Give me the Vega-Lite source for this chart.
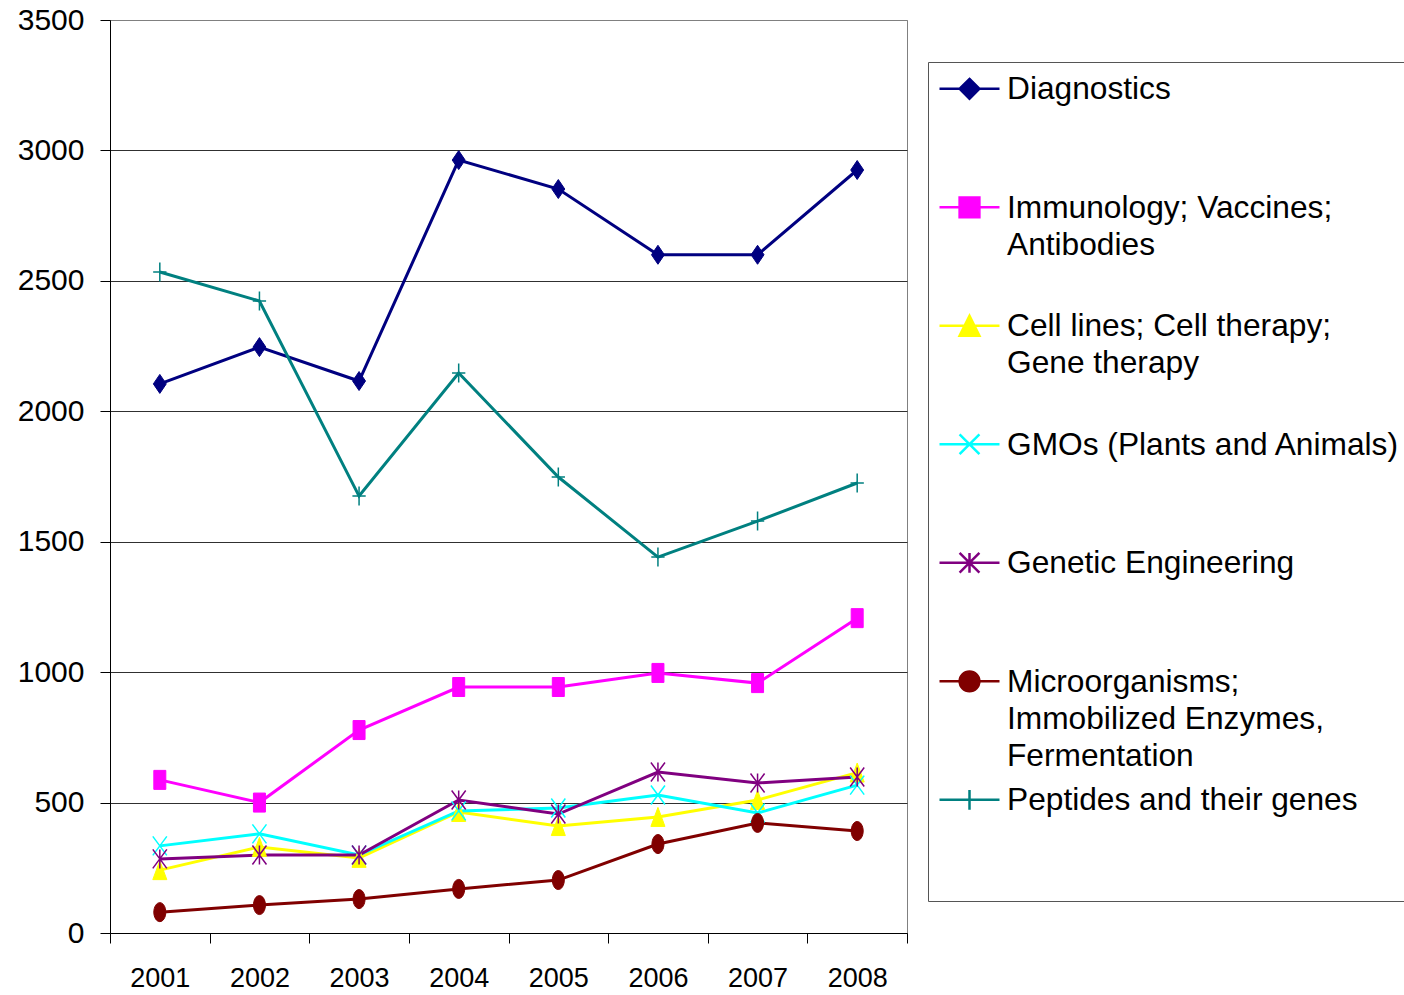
{
  "$schema": "https://vega.github.io/schema/vega-lite/v6.json",
  "width": 797,
  "height": 913,
  "autosize": {"type": "none"},
  "padding": {"left": 110, "top": 20, "right": 497, "bottom": 62},
  "background": "white",
  "config": {"view": {"stroke": "#808080", "strokeWidth": 1}, "font": "Liberation Sans"},
  "data": {"values": [
    {"year": "2001", "series": "Diagnostics", "value": 2105},
    {"year": "2002", "series": "Diagnostics", "value": 2246},
    {"year": "2003", "series": "Diagnostics", "value": 2116},
    {"year": "2004", "series": "Diagnostics", "value": 2963},
    {"year": "2005", "series": "Diagnostics", "value": 2852},
    {"year": "2006", "series": "Diagnostics", "value": 2600},
    {"year": "2007", "series": "Diagnostics", "value": 2600},
    {"year": "2008", "series": "Diagnostics", "value": 2925},
    {"year": "2001", "series": "Immunology; Vaccines; Antibodies", "value": 587},
    {"year": "2002", "series": "Immunology; Vaccines; Antibodies", "value": 500},
    {"year": "2003", "series": "Immunology; Vaccines; Antibodies", "value": 778},
    {"year": "2004", "series": "Immunology; Vaccines; Antibodies", "value": 943},
    {"year": "2005", "series": "Immunology; Vaccines; Antibodies", "value": 943},
    {"year": "2006", "series": "Immunology; Vaccines; Antibodies", "value": 997},
    {"year": "2007", "series": "Immunology; Vaccines; Antibodies", "value": 958},
    {"year": "2008", "series": "Immunology; Vaccines; Antibodies", "value": 1207},
    {"year": "2001", "series": "Cell lines; Cell therapy; Gene therapy", "value": 241},
    {"year": "2002", "series": "Cell lines; Cell therapy; Gene therapy", "value": 330},
    {"year": "2003", "series": "Cell lines; Cell therapy; Gene therapy", "value": 288},
    {"year": "2004", "series": "Cell lines; Cell therapy; Gene therapy", "value": 464},
    {"year": "2005", "series": "Cell lines; Cell therapy; Gene therapy", "value": 410},
    {"year": "2006", "series": "Cell lines; Cell therapy; Gene therapy", "value": 445},
    {"year": "2007", "series": "Cell lines; Cell therapy; Gene therapy", "value": 510},
    {"year": "2008", "series": "Cell lines; Cell therapy; Gene therapy", "value": 615},
    {"year": "2001", "series": "GMOs (Plants and Animals)", "value": 334},
    {"year": "2002", "series": "GMOs (Plants and Animals)", "value": 380},
    {"year": "2003", "series": "GMOs (Plants and Animals)", "value": 299},
    {"year": "2004", "series": "GMOs (Plants and Animals)", "value": 468},
    {"year": "2005", "series": "GMOs (Plants and Animals)", "value": 479},
    {"year": "2006", "series": "GMOs (Plants and Animals)", "value": 529},
    {"year": "2007", "series": "GMOs (Plants and Animals)", "value": 460},
    {"year": "2008", "series": "GMOs (Plants and Animals)", "value": 567},
    {"year": "2001", "series": "Genetic Engineering", "value": 284},
    {"year": "2002", "series": "Genetic Engineering", "value": 299},
    {"year": "2003", "series": "Genetic Engineering", "value": 299},
    {"year": "2004", "series": "Genetic Engineering", "value": 510},
    {"year": "2005", "series": "Genetic Engineering", "value": 456},
    {"year": "2006", "series": "Genetic Engineering", "value": 617},
    {"year": "2007", "series": "Genetic Engineering", "value": 575},
    {"year": "2008", "series": "Genetic Engineering", "value": 598},
    {"year": "2001", "series": "Microorganisms; Immobilized Enzymes, Fermentation", "value": 80},
    {"year": "2002", "series": "Microorganisms; Immobilized Enzymes, Fermentation", "value": 107},
    {"year": "2003", "series": "Microorganisms; Immobilized Enzymes, Fermentation", "value": 130},
    {"year": "2004", "series": "Microorganisms; Immobilized Enzymes, Fermentation", "value": 169},
    {"year": "2005", "series": "Microorganisms; Immobilized Enzymes, Fermentation", "value": 203},
    {"year": "2006", "series": "Microorganisms; Immobilized Enzymes, Fermentation", "value": 341},
    {"year": "2007", "series": "Microorganisms; Immobilized Enzymes, Fermentation", "value": 422},
    {"year": "2008", "series": "Microorganisms; Immobilized Enzymes, Fermentation", "value": 391},
    {"year": "2001", "series": "Peptides and their genes", "value": 2534},
    {"year": "2002", "series": "Peptides and their genes", "value": 2423},
    {"year": "2003", "series": "Peptides and their genes", "value": 1675},
    {"year": "2004", "series": "Peptides and their genes", "value": 2147},
    {"year": "2005", "series": "Peptides and their genes", "value": 1748},
    {"year": "2006", "series": "Peptides and their genes", "value": 1441},
    {"year": "2007", "series": "Peptides and their genes", "value": 1579},
    {"year": "2008", "series": "Peptides and their genes", "value": 1725}
  ]},
  "encoding": {
    "x": {
      "field": "year", "type": "ordinal", "bandPosition": 0.5,
      "scale": {"type": "band", "paddingInner": 0, "paddingOuter": 0},
      "axis": {"title": null, "grid": false, "domainColor": "black", "tickColor": "black", "tickSize": 10, "tickBand": "extent", "labelFont": "Liberation Sans", "labelFontSize": 27, "labelColor": "black", "labelPadding": 22, "labelAngle": 0}
    },
    "y": {
      "field": "value", "type": "quantitative",
      "scale": {"domain": [0, 3500], "nice": false},
      "axis": {"title": null, "format": "d", "values": [0, 500, 1000, 1500, 2000, 2500, 3000, 3500], "grid": true, "gridColor": {"condition": {"test": "datum.value == 3500", "value": "#808080"}, "value": "#303030"}, "domainColor": "black", "tickColor": "black", "tickSize": 10, "labelFont": "Liberation Sans", "labelFontSize": 30, "labelColor": "black", "labelPadding": 16}
    },
    "color": {
      "field": "series", "type": "nominal",
      "scale": {
        "domain": ["Diagnostics", "Immunology; Vaccines; Antibodies", "Cell lines; Cell therapy; Gene therapy", "GMOs (Plants and Animals)", "Genetic Engineering", "Microorganisms; Immobilized Enzymes, Fermentation", "Peptides and their genes"],
        "range": ["#000080", "#FF00FF", "#FFFF00", "#00FFFF", "#800080", "#800000", "#008080"]
      },
      "legend": {
        "title": null, "orient": "none", "legendX": 818, "legendY": 42,
        "direction": "vertical", "columns": 1, "gridAlign": "all",
        "padding": 10, "rowPadding": 10.5, "strokeColor": "#555555", "fillColor": "white",
        "symbolSize": 3600, "labelOffset": 6, "symbolStrokeWidth": 2.5,
        "labelFont": "Liberation Sans", "labelFontSize": 31.7, "labelColor": "black", "labelBaseline": "top", "labelLimit": 800,
        "labelExpr": "datum.label == 'Immunology; Vaccines; Antibodies' ? ['Immunology; Vaccines;', 'Antibodies'] : datum.label == 'Cell lines; Cell therapy; Gene therapy' ? ['Cell lines; Cell therapy;', 'Gene therapy'] : datum.label == 'Microorganisms; Immobilized Enzymes, Fermentation' ? ['Microorganisms;', 'Immobilized Enzymes,', 'Fermentation'] : datum.label == 'Peptides and their genes' ? ['Peptides and their genes', ' ', ' '] : datum.label",
        "encode": {
          "symbols": {"update": {
            "shape": {"signal": "datum.value == 'Diagnostics' ? 'M-1,-0.49H1M0,-0.82L0.33,-0.49L0,-0.16L-0.33,-0.49Z' : datum.value == 'Immunology; Vaccines; Antibodies' ? 'M-1,-0.49H1M-0.33,-0.82H0.33V-0.16H-0.33Z' : datum.value == 'Cell lines; Cell therapy; Gene therapy' ? 'M-1,-0.49H1M0,-0.82L0.33,-0.16H-0.33Z' : datum.value == 'GMOs (Plants and Animals)' ? 'M-1,-0.49H1M-0.33,-0.82L0.33,-0.16M0.33,-0.82L-0.33,-0.16' : datum.value == 'Genetic Engineering' ? 'M-1,-0.49H1M-0.33,-0.82L0.33,-0.16M0.33,-0.82L-0.33,-0.16M0,-0.82V-0.16' : datum.value == 'Peptides and their genes' ? 'M-1,-0.49H1M0,-0.82V-0.16' : 'M-1,-0.49H1M-0.33,-0.49A0.33,0.33 0 1,0 0.33,-0.49A0.33,0.33 0 1,0 -0.33,-0.49Z'"},
            "fill": {"scale": "color", "field": "value"},
            "stroke": {"scale": "color", "field": "value"},
            "strokeWidth": {"value": 2.5},
            "opacity": {"value": 1}
          }},
          "labels": {"update": {"lineHeight": {"value": 37}, "y": {"value": 2}}}
        }
      }
    }
  },
  "layer": [
    {"mark": {"type": "line", "strokeWidth": 3}},
    {"transform": [{"filter": "datum.series == 'Diagnostics'"}], "mark": {"type": "point", "filled": true, "opacity": 1, "size": 361, "strokeWidth": 1, "stroke": "#000080", "shape": "M0,-1L0.68,0L0,1L-0.68,0Z"}},
    {"transform": [{"filter": "datum.series == 'Immunology; Vaccines; Antibodies'"}], "mark": {"type": "point", "filled": true, "opacity": 1, "size": 361, "strokeWidth": 1, "stroke": "#FF00FF", "shape": "M-0.63,-1H0.63V1H-0.63Z"}},
    {"transform": [{"filter": "datum.series == 'Cell lines; Cell therapy; Gene therapy'"}], "mark": {"type": "point", "filled": true, "opacity": 1, "size": 361, "strokeWidth": 1, "stroke": "#FFFF00", "shape": "M0,-1L0.74,1H-0.74Z"}},
    {"transform": [{"filter": "datum.series == 'GMOs (Plants and Animals)'"}], "mark": {"type": "point", "filled": true, "opacity": 1, "size": 361, "strokeWidth": 1.5, "stroke": "#00FFFF", "shape": "M-0.74,-1L0.74,1M0.74,-1L-0.74,1"}},
    {"transform": [{"filter": "datum.series == 'Genetic Engineering'"}], "mark": {"type": "point", "filled": true, "opacity": 1, "size": 361, "strokeWidth": 1.5, "stroke": "#800080", "shape": "M-0.74,-1L0.74,1M0.74,-1L-0.74,1M0,-1V1"}},
    {"transform": [{"filter": "datum.series == 'Microorganisms; Immobilized Enzymes, Fermentation'"}], "mark": {"type": "point", "filled": true, "opacity": 1, "size": 361, "strokeWidth": 1, "stroke": "#800000", "shape": "M-0.63,0A0.63,1 0 1,0 0.63,0A0.63,1 0 1,0 -0.63,0Z"}},
    {"transform": [{"filter": "datum.series == 'Peptides and their genes'"}], "mark": {"type": "point", "filled": true, "opacity": 1, "size": 361, "strokeWidth": 1.5, "stroke": "#008080", "shape": "M-0.7,0H0.7M0,-1V1"}}
  ]
}
